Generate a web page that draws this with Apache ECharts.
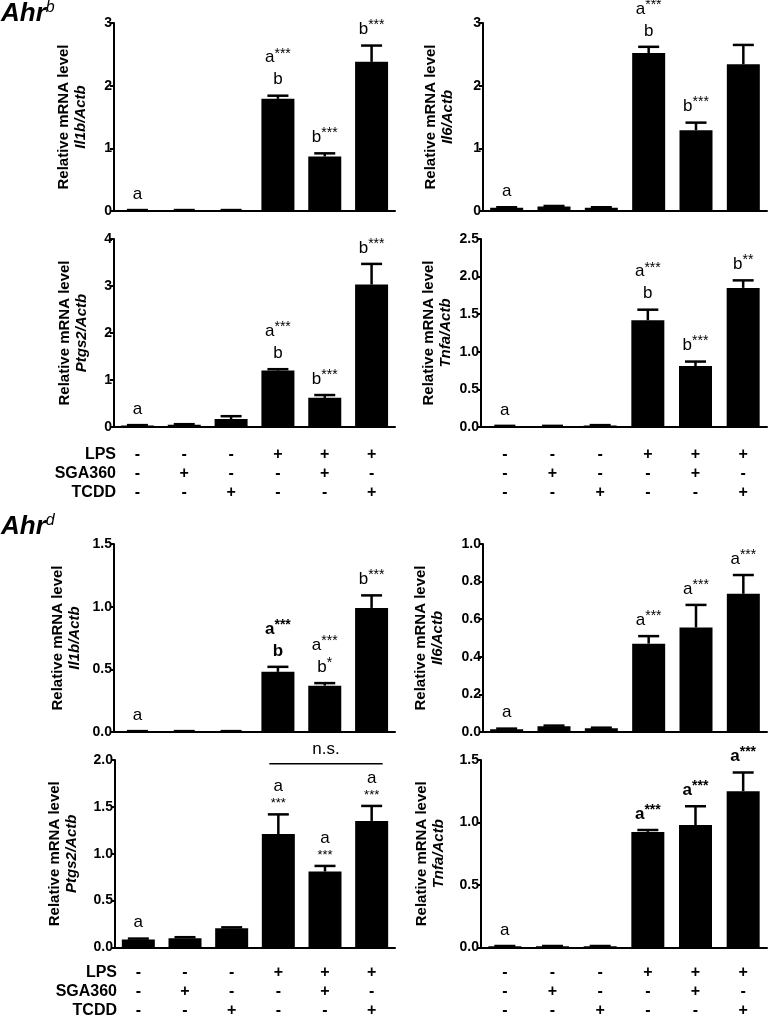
<!DOCTYPE html>
<html><head><meta charset="utf-8">
<script src="https://cdn.jsdelivr.net/npm/echarts@6.0.0/dist/echarts.min.js"></script>
<style>html,body{margin:0;padding:0;background:#fff}#c{width:768px;height:1020px}</style>
</head><body><div id="c"></div>
<script>
// ---------- data ----------
const groups = ['Control', 'SGA360', 'TCDD', 'LPS', 'LPS+SGA360', 'LPS+TCDD'];
const lpsRow = ['-', '-', '-', '+', '+', '+'];
const sgaRow = ['-', '+', '-', '-', '+', '-'];
const tcddRow = ['-', '-', '+', '-', '-', '+'];
const rowNames = ['LPS', 'SGA360', 'TCDD'];

// Ahr b
const il1bB = [0.01, 0.01, 0.01, 1.79, 0.87, 2.38];
const il1bBErr = [0.005, 0.005, 0.005, 0.05, 0.05, 0.26];
const il6B = [0.05, 0.07, 0.05, 2.52, 1.29, 2.34];
const il6BErr = [0.01, 0.01, 0.01, 0.10, 0.12, 0.31];
const ptgs2B = [0.03, 0.05, 0.17, 1.20, 0.62, 3.03];
const ptgs2BErr = [0.01, 0.01, 0.06, 0.03, 0.06, 0.44];
const tnfaB = [0.01, 0.01, 0.02, 1.42, 0.81, 1.85];
const tnfaBErr = [0.005, 0.005, 0.005, 0.14, 0.06, 0.10];
// Ahr d
const il1bD = [0.005, 0.005, 0.005, 0.48, 0.37, 0.99];
const il1bDErr = [0.002, 0.002, 0.002, 0.04, 0.02, 0.10];
const il6D = [0.015, 0.03, 0.02, 0.47, 0.556, 0.735];
const il6DErr = [0.003, 0.004, 0.003, 0.04, 0.12, 0.10];
const ptgs2D = [0.085, 0.10, 0.205, 1.21, 0.81, 1.35];
const ptgs2DErr = [0.01, 0.01, 0.01, 0.21, 0.06, 0.16];
const tnfaD = [0.01, 0.01, 0.01, 0.925, 0.98, 1.25];
const tnfaDErr = [0.002, 0.002, 0.002, 0.015, 0.15, 0.15];

// significance annotations ('|' new line, '^' superscript, '!' bold line, '~' small line)
const annIl1bB = ['a', '', '', 'a^***|b', 'b^***', 'b^***'];
const annIl6B = ['a', '', '', 'a^***|b', 'b^***', ''];
const annPtgs2B = ['a', '', '', 'a^***|b', 'b^***', 'b^***'];
const annTnfaB = ['a', '', '', 'a^***|b', 'b^***', 'b^**'];
const annIl1bD = ['a', '', '', '!a^***|!b', 'a^***|b^*', 'b^***'];
const annIl6D = ['a', '', '', 'a^***', 'a^***', 'a^***'];
const annPtgs2D = ['a', '', '', 'a|~***', 'a|~***', 'a|~***'];
const annTnfaD = ['a', '', '', '!a^***', '!a^***', '!a^***'];

// y-axis ticks
const yTicks = [
  {max: 3, interval: 1, dec: 0},
  {max: 3, interval: 1, dec: 0},
  {max: 4, interval: 1, dec: 0},
  {max: 2.5, interval: 0.5, dec: 1},
  {max: 1.5, interval: 0.5, dec: 1},
  {max: 1.0, interval: 0.2, dec: 1},
  {max: 2.0, interval: 0.5, dec: 1},
  {max: 1.5, interval: 0.5, dec: 1}
];
const genes = ['Il1b', 'Il6', 'Ptgs2', 'Tnfa', 'Il1b', 'Il6', 'Ptgs2', 'Tnfa'];
const nsBracket = {panel: 6, from: 3, to: 5, y: 1.96, text: 'n.s.'};

// ---------- layout ----------
const FONT = '"Liberation Sans", Arial, Helvetica, sans-serif';
const layout = [
  {left: 114, top: 23, width: 281, gap: 25, table: 0},
  {left: 483, top: 23, width: 284, gap: 27, table: 0},
  {left: 114, top: 239, width: 281, gap: 23.5, table: 28},
  {left: 481, top: 239, width: 286, gap: 26.5, table: 28},
  {left: 114, top: 544, width: 281, gap: 30.5, table: 0},
  {left: 483, top: 544, width: 284, gap: 37, table: 0},
  {left: 115, top: 760, width: 280, gap: 34.5, table: 25},
  {left: 481, top: 760, width: 286, gap: 34, table: 25}
];
const H = 188;
const means = [il1bB, il6B, ptgs2B, tnfaB, il1bD, il6D, ptgs2D, tnfaD];
const errs = [il1bBErr, il6BErr, ptgs2BErr, tnfaBErr, il1bDErr, il6DErr, ptgs2DErr, tnfaDErr];
const anns = [annIl1bB, annIl6B, annPtgs2B, annTnfaB, annIl1bD, annIl6D, annPtgs2D, annTnfaD];

function richLabel(str) {
  return str.split('|').map(line => {
    let bold = false;
    if (line[0] === '!') { bold = true; line = line.slice(1); }
    if (line[0] === '~') return '{sm|' + line.slice(1) + '}';
    const parts = line.split('^');
    let out = '{' + (bold ? 'tb' : 't') + '|' + parts[0] + '}';
    if (parts[1]) out += '{' + (bold ? 'sb' : 's') + '|' + parts[1] + '}';
    return out;
  }).join('\n');
}
const annRich = {
  t: {fontSize: 17, lineHeight: 22, color: '#000', fontFamily: FONT},
  tb: {fontSize: 17, lineHeight: 22, color: '#000', fontWeight: 'bold', fontFamily: FONT},
  s: {fontSize: 14, lineHeight: 14, color: '#000', verticalAlign: 'top', fontFamily: FONT},
  sb: {fontSize: 14, lineHeight: 14, color: '#000', fontWeight: 'bold', verticalAlign: 'top', fontFamily: FONT},
  sm: {fontSize: 13, lineHeight: 12, color: '#000', fontFamily: FONT}
};

const grid = [], xAxis = [], yAxis = [], series = [], graphic = [];
layout.forEach((L, p) => {
  grid.push({left: L.left, top: L.top, width: L.width, height: H});
  xAxis.push({
    type: 'category', gridIndex: p, data: groups,
    axisLine: {lineStyle: {color: '#000', width: 2}},
    axisTick: {alignWithLabel: true, length: 5, lineStyle: {color: '#000', width: 2}},
    axisLabel: L.table ? {
      show: true, interval: 0, margin: L.table - 9.5, lineHeight: 19,
      fontSize: 16, fontWeight: 'bold', color: '#000', fontFamily: FONT,
      formatter: (v, i) => lpsRow[i] + '\n' + sgaRow[i] + '\n' + tcddRow[i]
    } : {show: false},
    splitLine: {show: false}
  });
  const T = yTicks[p];
  yAxis.push({
    type: 'value', gridIndex: p, min: 0, max: T.max, interval: T.interval,
    name: '{b|Relative mRNA level}\n{i|' + genes[p] + '/Actb}',
    nameLocation: 'middle', nameGap: L.gap, nameRotate: 90,
    nameTextStyle: {
      color: '#000', fontFamily: FONT,
      rich: {
        b: {fontSize: 15, fontWeight: 'bold', lineHeight: 17, color: '#000', fontFamily: FONT},
        i: {fontSize: 15, fontWeight: 'bold', fontStyle: 'italic', lineHeight: 17, color: '#000', fontFamily: FONT}
      }
    },
    axisLine: {show: true, lineStyle: {color: '#000', width: 2}},
    axisTick: {show: true, length: 4, lineStyle: {color: '#000', width: 2}},
    axisLabel: {fontSize: 14, fontWeight: 'bold', color: '#000', margin: 2, fontFamily: FONT,
      formatter: v => v.toFixed(T.dec)},
    splitLine: {show: false}
  });
  series.push({
    type: 'bar', xAxisIndex: p, yAxisIndex: p, data: means[p], barWidth: 33,
    itemStyle: {color: '#000'}, silent: true
  });
  series.push({
    type: 'custom', xAxisIndex: p, yAxisIndex: p, silent: true, z: 3,
    encode: {x: 0, y: 2},
    data: means[p].map((m, i) => [i, m, m + errs[p][i]]),
    renderItem: (params, api) => {
      const b = api.coord([api.value(0), api.value(1)]);
      const t = api.coord([api.value(0), api.value(2)]);
      const st = {stroke: '#000', lineWidth: 2.5};
      return {type: 'group', children: [
        {type: 'line', shape: {x1: b[0], y1: b[1], x2: t[0], y2: t[1]}, style: st},
        {type: 'line', shape: {x1: t[0] - 10.5, y1: t[1], x2: t[0] + 10.5, y2: t[1]}, style: st}
      ]};
    }
  });
  series.push({
    type: 'scatter', xAxisIndex: p, yAxisIndex: p, symbolSize: 0, silent: true, z: 4,
    itemStyle: {opacity: 1, color: '#000'},
    data: means[p].map((m, i) => [i, m + errs[p][i]]),
    label: {
      show: true, position: 'top', distance: 5, color: '#000', opacity: 1,
      formatter: prm => anns[p][prm.dataIndex] ? richLabel(anns[p][prm.dataIndex]) : '',
      rich: annRich
    }
  });
  if (L.table && p % 2 === 0) {
    rowNames.forEach((nm, k) => {
      graphic.push({
        type: 'text', x: L.left + 2, y: L.top + H + L.table + k * 19,
        style: {text: nm, fontSize: 16, fontWeight: 'bold', fill: '#000', fontFamily: FONT,
          align: 'right', verticalAlign: 'middle'}
      });
    });
  }
});

// n.s. bracket
series.push({
  type: 'custom', xAxisIndex: nsBracket.panel, yAxisIndex: nsBracket.panel, silent: true, z: 5,
  encode: {x: 0, y: 1},
  data: [[nsBracket.from, nsBracket.y, nsBracket.to]],
  renderItem: (params, api) => {
    const a = api.coord([api.value(0), api.value(1)]);
    const b = api.coord([api.value(2), api.value(1)]);
    const x1 = a[0] - 9, x2 = b[0] + 11;
    return {type: 'group', children: [
      {type: 'line', shape: {x1: x1, y1: a[1], x2: x2, y2: a[1]}, style: {stroke: '#000', lineWidth: 1.5}},
      {type: 'text', x: (x1 + x2) / 2, y: a[1] - 14,
        style: {text: nsBracket.text, fontSize: 17, fill: '#000', fontFamily: FONT, align: 'center', verticalAlign: 'middle'}}
    ]};
  }
});

// strain titles
[['b', 0], ['d', 513]].forEach(([sup, top]) => {
  graphic.push({
    type: 'text', x: 1, y: top,
    style: {
      text: '{m|Ahr}{s|' + sup + '}', verticalAlign: 'top',
      rich: {
        m: {fontSize: 26, fontWeight: 'bold', fontStyle: 'italic', fontFamily: FONT, fill: '#000', lineHeight: 27},
        s: {fontSize: 16, fontStyle: 'italic', fontFamily: FONT, fill: '#000', lineHeight: 17, verticalAlign: 'top'}
      }
    }
  });
});

const chart = echarts.init(document.getElementById('c'), null, {renderer: 'canvas'});
chart.setOption({animation: false, backgroundColor: '#fff', grid, xAxis, yAxis, series, graphic});
</script></body></html>
